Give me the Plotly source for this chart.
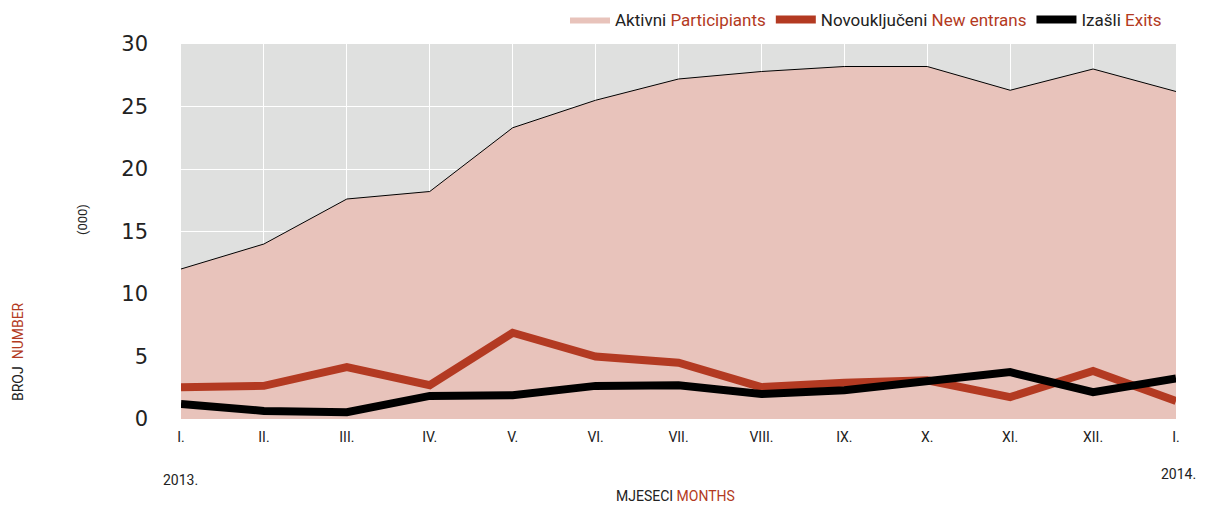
import plotly.graph_objects as go

# ==========================
# DATA (thousands)
# ==========================
months = ['I.', 'II.', 'III.', 'IV.', 'V.', 'VI.', 'VII.', 'VIII.', 'IX.', 'X.', 'XI.', 'XII.', 'I.']
participants = [12.0, 14.0, 17.6, 18.2, 23.3, 25.5, 27.2, 27.8, 28.2, 28.2, 26.3, 28.0, 26.2]
new_entrants = [2.55, 2.65, 4.15, 2.7, 6.9, 5.0, 4.5, 2.55, 2.9, 3.1, 1.75, 3.85, 1.45]
exits = [1.2, 0.65, 0.55, 1.85, 1.9, 2.65, 2.7, 2.0, 2.3, 3.1, 3.75, 2.15, 3.25]

RED = '#b33a22'
FONT = 'Roboto'
x = list(range(len(months)))

# plot area in pixels
L, R, T, B = 181, 1176, 44, 419

fig = go.Figure()

# filled area (legend swatch only shows fill)
fig.add_trace(go.Scatter(
    x=x, y=participants, mode='lines', fill='tozeroy',
    fillcolor='#e8c3bb', line=dict(width=0, color='#e8c3bb'),
    name="Aktivni <span style='color:%s'>Participiants</span>" % RED
))
# thin outline on top of the area
fig.add_trace(go.Scatter(
    x=x, y=participants, mode='lines',
    line=dict(width=1, color='black'), showlegend=False
))

fig.add_trace(go.Scatter(
    x=x, y=new_entrants, mode='lines',
    line=dict(width=8, color=RED),
    name="Novouključeni <span style='color:%s'>New entrans</span>" % RED
))

fig.add_trace(go.Scatter(
    x=x, y=exits, mode='lines',
    line=dict(width=8, color='black'),
    name="Izašli <span style='color:%s'>Exits</span>" % RED
))

fig.update_xaxes(
    range=[0, 12], tickvals=x, ticktext=months,
    showgrid=True, gridcolor='white', gridwidth=1,
    zeroline=False, showline=False, ticks='',
    tickfont=dict(family=FONT, size=14, color='#222'),
    ticklabelstandoff=8
)

fig.update_yaxes(
    range=[0, 30], tickvals=[0, 5, 10, 15, 20, 25, 30],
    showgrid=True, gridcolor='white', gridwidth=1,
    zeroline=False, showline=False, ticks='',
    tickfont=dict(family='DejaVu Sans', size=21, color='#222'),
    ticklabelstandoff=32
)

annotations = [
    ('(000)', 82, 220, -90, 13),
    ("BROJ  <span style='color:%s'>NUMBER</span>" % RED, 18, 352, -90, 14),
    ('2013.', 180, 480, 0, 14),
    ('2014.', 1178, 474, 0, 14),
    ("MJESECI <span style='color:%s'>MONTHS</span>" % RED, 675, 496, 0, 14),
]
for text, px, py, angle, size in annotations:
    fig.add_annotation(
        text=text, x=(px - L) / (R - L), y=(B - py) / (B - T),
        xref='paper', yref='paper', showarrow=False, textangle=angle,
        font=dict(family=FONT, color='#222', size=size),
        xanchor='center', yanchor='middle'
    )

fig.update_layout(
    width=1213, height=506,
    margin=dict(l=L, r=1213 - R, t=T, b=506 - B, autoexpand=False),
    plot_bgcolor='#dfe0df',
    paper_bgcolor='white',
    font=dict(family=FONT, color='#222'),
    legend=dict(
        orientation='h', x=1 - 46 / 1213, xanchor='right', xref='container',
        y=1 - 20 / 506, yanchor='middle', yref='container',
        font=dict(family=FONT, size=17, color='#222'),
        itemwidth=40, traceorder='normal'
    )
)

# drop the default 8px page margin so the figure sits at the window corner
fig.write_html("out.html", config={'displayModeBar': False},
               post_script="document.body.style.margin='0';")
